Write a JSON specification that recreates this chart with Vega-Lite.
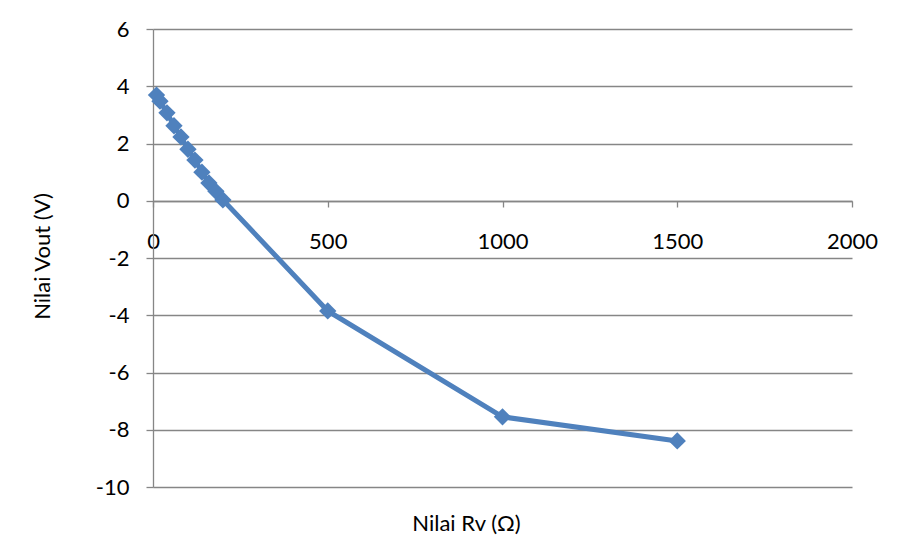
{
  "$schema": "https://vega.github.io/schema/vega-lite/v6.json",
  "width": 699,
  "height": 458,
  "autosize": {"type": "none"},
  "padding": {"left": 153, "top": 29, "right": 55, "bottom": 55},
  "background": "white",
  "config": {
    "view": {"stroke": null},
    "axis": {"labelFont": "Lato", "titleFont": "Lato", "labelFontSize": 22, "titleFontSize": 22, "labelColor": "#000000", "titleColor": "#000000", "titleFontWeight": "normal", "domainColor": "#868686", "tickColor": "#868686", "gridColor": "#868686", "gridOpacity": 1, "domainWidth": 1.3, "gridWidth": 1.3, "tickWidth": 1.3}
  },
  "data": {
    "values": [
      {"rv": 10, "vout": 3.69},
      {"rv": 20, "vout": 3.48},
      {"rv": 40, "vout": 3.07},
      {"rv": 60, "vout": 2.62},
      {"rv": 80, "vout": 2.23},
      {"rv": 100, "vout": 1.8},
      {"rv": 120, "vout": 1.42},
      {"rv": 140, "vout": 1.0},
      {"rv": 160, "vout": 0.62},
      {"rv": 180, "vout": 0.33},
      {"rv": 200, "vout": 0.03},
      {"rv": 500, "vout": -3.85},
      {"rv": 1000, "vout": -7.55},
      {"rv": 1500, "vout": -8.39}
    ]
  },
  "mark": {"type": "line", "color": "#4F81BD", "strokeWidth": 5, "point": {"shape": "diamond", "size": 300, "filled": true, "color": "#4F81BD", "opacity": 1}},
  "encoding": {
    "x": {
      "field": "rv", "type": "quantitative",
      "scale": {"domain": [0, 2000], "nice": false, "zero": false},
      "axis": {"title": "Nilai Rv (Ω)", "values": [0, 500, 1000, 1500, 2000], "labelExpr": "'' + datum.value", "grid": false, "offset": -286, "tickSize": 6, "labelPadding": 24, "labelFlush": false, "labelOverlap": false, "titleX": 313, "titleY": 322, "titleAnchor": null, "titleAlign": "center", "titleBaseline": "middle"}
    },
    "y": {
      "field": "vout", "type": "quantitative",
      "scale": {"domain": [-10, 6], "nice": false, "zero": false},
      "axis": {"title": "Nilai Vout (V)", "values": [-10, -8, -6, -4, -2, 0, 2, 4, 6], "labelExpr": "'' + datum.value", "grid": true, "tickSize": 7, "labelPadding": 17, "labelFlush": false, "labelOverlap": false, "titleX": -111, "titleY": 227, "titleAngle": 270, "titleAlign": "center", "titleBaseline": "middle"}
    }
  }
}
